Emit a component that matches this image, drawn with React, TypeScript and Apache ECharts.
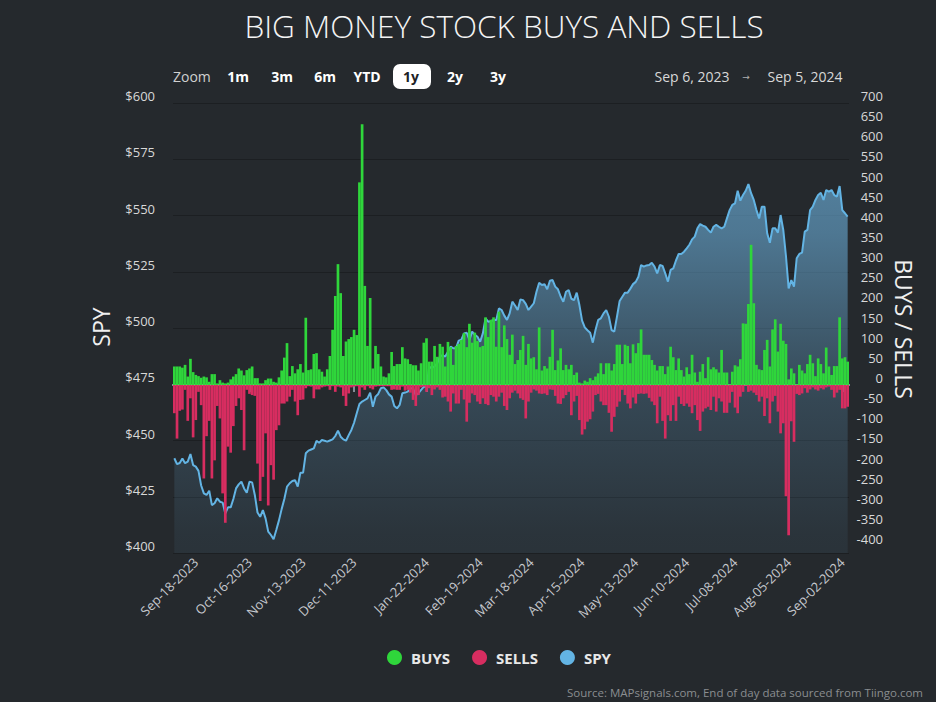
import React, { useEffect, useRef } from 'react';
import * as echarts from 'echarts';

const START_DATE = '2023-09-06';
const END_DATE = '2024-09-05';
const HOLIDAYS = ['2023-11-23', '2023-12-25', '2024-01-01', '2024-01-15', '2024-02-19', '2024-03-29', '2024-05-27', '2024-06-19', '2024-07-04', '2024-09-02'];

const TICK_DATES = ['2023-09-18', '2023-10-16', '2023-11-13', '2023-12-11', '2024-01-22', '2024-02-19', '2024-03-18', '2024-04-15', '2024-05-13', '2024-06-10', '2024-07-08', '2024-08-05', '2024-09-02'];
const TICK_LABELS = ['Sep-18-2023', 'Oct-16-2023', 'Nov-13-2023', 'Dec-11-2023', 'Jan-22-2024', 'Feb-19-2024', 'Mar-18-2024', 'Apr-15-2024', 'May-13-2024', 'Jun-10-2024', 'Jul-08-2024', 'Aug-05-2024', 'Sep-02-2024'];

const RIGHT_TICKS = [-400, -350, -300, -250, -200, -150, -100, -50, 0, 50, 100, 150, 200, 250, 300, 350, 400, 450, 500, 550, 600, 650, 700];

const BUYS = [
  46, 46, 46, 43, 50, 21, 65, 32, 25, 22,
  18, 21, 19, 8, 27, 27, 4, 12, 6, 4,
  6, 14, 21, 27, 41, 36, 24, 37, 41, 46,
  17, 17, 4, 4, 12, 16, 16, 8, 6, 19,
  36, 68, 104, 22, 47, 29, 39, 52, 31, 167,
  37, 39, 77, 79, 39, 33, 21, 39, 72, 137,
  221, 300, 228, 72, 108, 114, 119, 137, 124, 503,
  647, 246, 97, 216, 41, 97, 77, 46, 21, 19,
  29, 82, 47, 52, 52, 94, 66, 64, 52, 49,
  49, 36, 54, 105, 116, 58, 58, 97, 70, 102,
  95, 46, 107, 94, 50, 97, 102, 112, 129, 94,
  152, 105, 130, 109, 94, 97, 168, 119, 162, 168,
  95, 182, 94, 148, 114, 75, 125, 52, 62, 87,
  122, 50, 102, 66, 69, 39, 143, 36, 47, 41,
  70, 137, 37, 61, 91, 37, 50, 39, 50, 25,
  31, 6, 4, 11, 8, 17, 12, 21, 29, 54,
  27, 54, 54,
  36, 52, 100, 100, 52, 100, 97, 54, 101, 79,
  104, 138, 75, 75, 75, 62, 50, 36, 47, 47,
  27, 46, 95, 69, 37, 66, 37, 21, 44, 27,
  75, 31, 8, 33, 52, 17, 69, 39, 44, 39,
  31, 87, 31, 31, 2, 33, 49, 46, 64, 153,
  152, 201, 348, 203, 50, 39, 37, 87, 112, 46,
  138, 163, 83, 152, 110, 102, 14, 41, 29, 2,
  50, 36, 29, 52, 75, 54, 22, 66, 52, 29,
  93, 46, 25, 47, 47, 168, 66, 69, 58,
];

const SELLS = [
  -70, -133, -64, -61, -12, -89, -33, -130, -87, -17,
  -50, -232, -127, -89, -232, -187, -52, -83, -269, -342,
  -153, -168, -102, -52, -33, -62, -162, -12, -22, -25,
  -27, -195, -288, -228, -120, -299, -199, -235, -112, -100,
  -46, -46, -41, -29, -12, -41, -75, -37, -36, -8,
  -3, -4, -33, -11, -11, -6, -4, -3, -12, -3,
  -17, -4, -6, -27, -52, -21, -6, -4, -3, -29,
  -6, -12, -3, -8, -11, -4, -3, -3, -3, -3,
  -3, -12, -11, -12, -12, -4, -14, -12, -19, -37,
  -52, -25, -6, -4, -17, -8, -25, -11, -6, -12,
  -31, -29, -41, -66, -21, -46, -46, -12, -36, -91,
  -44, -21, -25, -41, -47, -33, -47, -50, -25, -29,
  -41, -29, -19, -52, -62, -33, -19, -14, -21, -33,
  -37, -83, -41, -19, -11, -14, -21, -22, -21, -25,
  -11, -12, -27, -46, -47, -33, -25, -17, -75, -41,
  -27, -87, -123, -110, -91, -85, -66, -25, -22, -41,
  -50, -50, -69,
  -116, -79, -54, -41, -12, -25, -46, -58, -31, -46,
  -22, -21, -22, -21, -32, -41, -50, -95, -29, -89,
  -133, -75, -89, -50, -89, -29, -47, -52, -46, -54,
  -70, -50, -87, -114, -66, -58, -54, -62, -29, -66,
  -33, -41, -69, -69, -44, -17, -56, -70, -29, -17,
  -2, -17, -14, -19, -25, -41, -29,
  -77, -33, -95, -41, -27, -66, -120, -95, -276, -373,
  -90, -141, -22, -25, -21, -8, -19, -11, -6, -11,
  -14, -8, -11, -6, -4, -12, -31, -19, -12, -58,
  -58, -54,
];

const SPY = [
  442.1, 439.5, 440.0, 442.0, 439.9, 440.6, 444.0, 439.1, 438.4, 436.5,
  430.0, 426.5, 425.8, 427.7, 421.3, 422.1, 424.3, 422.8, 422.4, 417.6,
  420.3, 420.3, 424.0, 428.7, 430.5, 431.7, 428.7, 426.8, 431.7, 431.4,
  425.8, 418.0, 416.1, 419.1, 415.4, 409.5, 408.0, 406.1, 410.2, 414.5,
  419.5, 424.0, 429.5, 431.0, 432.0, 432.4, 429.5, 435.7, 435.7, 444.3,
  445.5, 446.0, 446.5, 449.8, 449.0, 450.2, 449.9, 449.5, 450.0, 450.5,
  452.0, 454.4, 451.7, 450.5, 449.9, 452.4, 454.7, 457.9, 462.1, 466.2,
  467.3, 468.0, 468.7, 471.3, 465.0, 469.5, 470.7, 473.2, 473.6, 472.4,
  470.5, 469.5, 465.3, 464.3, 465.8, 471.0, 471.3, 471.7, 473.2, 473.2,
  470.2, 471.0, 472.5, 473.9, 473.9, 482.8, 482.1, 483.0, 484.3, 487.3,
  488.0, 487.3, 489.5, 491.7, 491.0, 491.0, 494.4, 494.8, 497.6, 497.9,
  494.7, 498.4, 497.0, 496.1, 493.9, 497.6, 504.3, 502.8, 503.0, 503.6,
  503.6, 508.7, 508.0, 505.5, 503.6, 506.5, 511.7, 510.0, 508.0, 512.7,
  512.4, 510.7, 508.0, 509.5, 511.0, 516.1, 520.1, 519.1, 519.5, 517.2,
  521.0, 521.3, 518.4, 517.2, 514.0, 511.7, 516.1, 516.9, 513.0, 512.4,
  515.7, 510.2, 503.3, 500.3, 499.0, 497.9, 493.5, 499.1, 503.6, 504.3,
  506.5, 508.0, 505.0, 499.1, 498.4, 505.0, 512.0, 513.9, 515.7, 515.7,
  517.5, 519.5, 520.5, 522.8, 528.0, 527.3, 527.8, 528.0, 529.0, 527.3,
  524.3, 528.0, 527.6, 524.3, 520.6, 525.8, 526.5, 530.0, 532.9, 532.9,
  533.9, 535.4, 537.0, 539.4, 540.6, 544.3, 546.2, 545.5, 545.0, 543.6,
  542.4, 545.0, 545.8, 545.0, 544.3, 545.0, 548.7, 552.4, 554.7, 555.4,
  561.0, 556.6, 559.1, 561.0, 564.0, 559.9, 556.9, 552.4, 548.7, 553.9,
  553.9, 542.1, 537.9, 544.3, 544.3, 542.4, 550.2, 543.6, 532.0, 517.6,
  521.3, 518.4, 531.0, 532.9, 533.5, 542.8, 543.6, 552.4, 553.9, 556.9,
  559.1, 560.1, 556.9, 561.3, 560.6, 561.3, 559.1, 558.4, 563.1, 552.4,
  551.0, 549.5,
];

function buildDates(): string[] {
  const out: string[] = [];
  const d = new Date(START_DATE + 'T00:00:00Z');
  const end = new Date(END_DATE + 'T00:00:00Z');
  while (d.getTime() <= end.getTime()) {
    const wd = d.getUTCDay();
    const s = d.toISOString().slice(0, 10);
    if (wd !== 0 && wd !== 6 && HOLIDAYS.indexOf(s) < 0) out.push(s);
    d.setUTCDate(d.getUTCDate() + 1);
  }
  return out;
}

const FONT = '"Open Sans", "DejaVu Sans", sans-serif';
const GREEN = '#2fd63b';
const RED = '#d72d60';
const BLUE = '#63b4e4';
const BG = '#25292d';

export default function App() {
  const ref = useRef<HTMLDivElement>(null);

  useEffect(() => {
    if (!ref.current) return;
    const chart = echarts.init(ref.current, null, { renderer: 'svg' });
    const dates = buildDates();
    const tickMap: Record<number, string> = {};
    TICK_DATES.forEach((t, k) => {
      let idx = dates.findIndex((d) => d >= t);
      if (idx < 0) idx = dates.length - 1;
      tickMap[idx] = TICK_LABELS[k];
    });
    const isTick = (index: number) => tickMap[index] !== undefined;

    const btn = (label: string, cx: number) => ({
      type: 'text',
      x: cx,
      y: 76,
      silent: true,
      style: { text: label, fill: '#ffffff', fontSize: 14, fontWeight: 'bold', fontFamily: FONT, align: 'center', verticalAlign: 'middle' },
    });

    const option: any = {
      animation: false,
      backgroundColor: BG,
      grid: { left: 173, right: 87, top: 103, bottom: 149, containLabel: false },
      legend: {
        data: ['BUYS', 'SELLS', 'SPY'],
        left: 382,
        top: 645,
        icon: 'circle',
        itemWidth: 15,
        itemHeight: 15,
        itemGap: 22,
        textStyle: { color: '#e8e8e8', fontWeight: 'bold', fontSize: 15, fontFamily: FONT, padding: [0, 0, 0, 4] },
      },
      xAxis: {
        type: 'category',
        data: dates,
        boundaryGap: true,
        axisLine: { lineStyle: { color: '#a7afbd', width: 2 } },
        axisTick: { show: true, interval: (i: number) => isTick(i), alignWithLabel: true, length: 7, lineStyle: { color: '#a7afbd', width: 1.5 } },
        axisLabel: {
          interval: (i: number) => isTick(i),
          formatter: (_v: string, i: number) => tickMap[i] || '',
          rotate: 45,
          color: '#c5c8cd',
          fontSize: 13,
          fontFamily: FONT,
          margin: 7,
        },
        splitLine: { show: false },
      },
      yAxis: [
        {
          type: 'value',
          position: 'left',
          min: 400,
          max: 600,
          interval: 25,
          axisLine: { show: false },
          axisTick: { show: false },
          axisLabel: { formatter: (v: number) => '$' + v, color: '#d8d8d8', fontSize: 13, fontFamily: FONT, margin: 18, verticalAlign: 'bottom', lineHeight: 14 },
          splitLine: { show: true, lineStyle: { color: '#1c1f22', width: 1 } },
        },
        {
          type: 'value',
          position: 'right',
          min: -417,
          max: 700,
          axisLine: { show: false },
          axisTick: { show: false },
          splitLine: { show: false },
          axisLabel: {
            customValues: RIGHT_TICKS,
            color: '#d8d8d8',
            fontSize: 13,
            fontFamily: FONT,
            align: 'right',
            margin: 34,
            verticalAlign: 'bottom',
            lineHeight: 14,
          },
        },
      ],
      series: [
        {
          name: 'SPY',
          type: 'line',
          yAxisIndex: 0,
          data: SPY,
          symbol: 'none',
          smooth: false,
          itemStyle: { color: BLUE },
          lineStyle: { color: BLUE, width: 2 },
          areaStyle: {
            color: {
              type: 'linear', x: 0, y: 103, x2: 0, y2: 553, global: true,
              colorStops: [
                { offset: 0, color: 'rgba(110,180,225,1)' },
                { offset: 0.29, color: 'rgba(110,180,225,0.8)' },
                { offset: 0.66, color: 'rgba(110,180,225,0.31)' },
                { offset: 0.96, color: 'rgba(110,180,225,0.11)' },
                { offset: 1, color: 'rgba(110,180,225,0.1)' },
              ],
            },
            origin: 'start',
          },
          z: 1,
        },
        {
          name: 'BUYS',
          type: 'bar',
          yAxisIndex: 1,
          data: BUYS,
          itemStyle: { color: GREEN },
          barCategoryGap: '0%',
          barGap: '-100%',
          z: 2,
        },
        {
          name: 'SELLS',
          type: 'bar',
          yAxisIndex: 1,
          data: SELLS,
          itemStyle: { color: RED },
          barCategoryGap: '0%',
          barGap: '-100%',
          z: 2,
        },
      ],
      graphic: [
        { type: 'text', x: 504, y: 25, silent: true, style: { text: 'BIG MONEY STOCK BUYS AND SELLS', fill: '#f4f4f4', fontSize: 31.5, fontWeight: 300, fontFamily: FONT, align: 'center', verticalAlign: 'middle' } },
        { type: 'text', x: 173, y: 76, silent: true, style: { text: 'Zoom', fill: '#d0d0d0', fontSize: 14, fontFamily: FONT, align: 'left', verticalAlign: 'middle' } },
        btn('1m', 238),
        btn('3m', 282),
        btn('6m', 325),
        btn('YTD', 367),
        { type: 'rect', silent: true, shape: { x: 393, y: 64, width: 38, height: 25, r: 7 }, style: { fill: '#ffffff' } },
        { type: 'text', x: 411, y: 76, silent: true, style: { text: '1y', fill: '#1e2226', fontSize: 14, fontWeight: 'bold', fontFamily: FONT, align: 'center', verticalAlign: 'middle' } },
        btn('2y', 455),
        btn('3y', 498),
        { type: 'text', x: 692, y: 76, silent: true, style: { text: 'Sep 6, 2023', fill: '#d8d8d8', fontSize: 14, fontFamily: FONT, align: 'center', verticalAlign: 'middle' } },
        { type: 'text', x: 746, y: 76, silent: true, style: { text: '→', fill: '#b0b0b0', fontSize: 9, fontFamily: FONT, align: 'center', verticalAlign: 'middle' } },
        { type: 'text', x: 805, y: 76, silent: true, style: { text: 'Sep 5, 2024', fill: '#d8d8d8', fontSize: 14, fontFamily: FONT, align: 'center', verticalAlign: 'middle' } },
        { type: 'text', x: 101, y: 327, rotation: Math.PI / 2, silent: true, style: { text: 'SPY', fill: '#f0f0f0', fontSize: 23, fontFamily: FONT, align: 'center', verticalAlign: 'middle' } },
        { type: 'text', x: 904, y: 329, rotation: -Math.PI / 2, silent: true, style: { text: 'BUYS / SELLS', fill: '#f0f0f0', fontSize: 23, fontFamily: FONT, align: 'center', verticalAlign: 'middle' } },
        { type: 'text', x: 923, y: 692, silent: true, style: { text: 'Source: MAPsignals.com, End of day data sourced from Tiingo.com', fill: '#8a8d90', fontSize: 11.5, fontFamily: FONT, align: 'right', verticalAlign: 'middle' } },
      ],
    };
    chart.setOption(option);
    return () => chart.dispose();
  }, []);

  return <div ref={ref} style={{ position: 'fixed', left: 0, top: 0, width: 936, height: 702, background: BG }} />;
}
